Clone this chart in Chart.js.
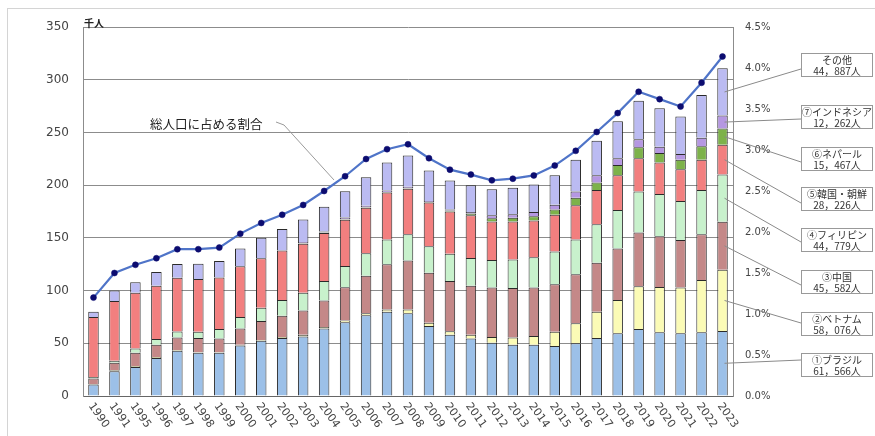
<!DOCTYPE html>
<html lang="ja">
<head>
<meta charset="utf-8">
<script src="https://cdn.jsdelivr.net/npm/chart.js@4.4.1/dist/chart.umd.min.js"></script>
<style>
  body { margin: 0; background: #fff; }
  #wrap { position: relative; width: 875px; height: 436px; overflow: hidden; }
  #frame { position: absolute; left: 7px; top: 8px; width: 900px; height: 500px; border-left: 1px solid #d4d4d4; border-top: 1px solid #d4d4d4; }
  canvas { position: absolute; left: 0; top: 0; }
  .note { position: absolute; font-family: "Noto Sans CJK JP", sans-serif; color: #222; white-space: nowrap; }
  .box { position: absolute; left: 801px; width: 72px; height: 24px; box-sizing: border-box; border: 1px solid #999; background: #fff;
         font-family: "Noto Sans CJK JP", sans-serif; font-size: 10px; line-height: 11px; text-align: center; color: #333; padding-top: 0px; }
</style>
</head>
<body>
<div id="wrap">
  <div id="frame"></div>
  <canvas id="grafico" width="875" height="436"></canvas>
  <div class="note" style="left:84px; top:15px; font-size:10px; font-weight:bold;">千人</div>
  <div class="note" style="left:150px; top:114px; font-size:12.5px;">総人口に占める割合</div>
  <div id="boxes"></div>
</div>
<script>
// 外国人住民数（千人）
const years = ["1990","1991","1995","1996","1997","1998","1999","2000","2001","2002","2003","2004","2005","2006","2007","2008","2009","2010","2011","2012","2013","2014","2015","2016","2017","2018","2019","2020","2021","2022","2023"];

const brazil      = [11, 23.5, 27.5, 36, 43, 41, 41, 48, 52.5, 55, 56.5, 64, 70, 76.5, 80, 78.5, 66.5, 58, 54.5, 50.5, 48.5, 48.5, 47.5, 50, 55, 59.5, 63.5, 60.5, 59.5, 60.5, 61.566];
const vietnam     = [0.5, 1, 1, 1, 0.6, 0.5, 0.5, 0.5, 0.7, 1, 1.5, 1.5, 1.7, 2, 2, 3.5, 3, 3.5, 3.5, 5.5, 7, 8.5, 13.5, 19, 25, 31.5, 40.5, 43, 43.5, 49.5, 58.076];
const china       = [5, 7, 12.5, 11.5, 12, 13.5, 13, 15.5, 18, 20, 23, 25, 31.5, 35.5, 43, 46.5, 47.5, 47.5, 46.5, 47, 47, 46, 45, 46.5, 46.5, 49, 51, 48, 45, 43.5, 45.582];
const philippines = [1.5, 2, 4, 5.5, 5.5, 6, 9, 11, 12.5, 15, 17, 18.5, 20, 21.5, 23.5, 25, 25, 26, 26.5, 26, 27, 28.5, 31, 33, 36.5, 36.5, 39, 40, 37, 42, 44.779];
const korea       = [57, 56.5, 53, 50.5, 51, 50, 49, 48, 47, 47, 46.5, 45.5, 44, 43, 44.5, 43, 41.5, 40, 40.5, 36.5, 36, 35, 35, 32.5, 32.5, 33, 31.5, 30, 30, 28.5, 28.226];
const nepal       = [0, 0, 0, 0, 0, 0, 0, 0, 0, 0, 0.5, 0.5, 0.5, 0.5, 0.5, 0.5, 0.5, 1, 1.5, 3, 3.5, 4, 5, 7, 7, 9.5, 10.5, 9, 9, 13, 15.467];
const indonesia   = [0, 0, 0, 0, 0, 0, 0, 0, 0, 0, 1, 1, 1.5, 1.5, 1.5, 1.5, 1, 1, 1.5, 3, 3.5, 4, 4.5, 6, 7, 6.5, 7.5, 6, 5.5, 8, 12.262];
const other       = [5, 10, 10, 13, 13, 14.5, 15.5, 17, 19.5, 20.5, 21.5, 23.5, 25, 27, 26.5, 29.5, 29, 27.5, 25.5, 24.5, 25, 26, 28, 30, 32.5, 35, 36.5, 36.5, 35.5, 40.5, 44.887];

// 総人口に占める割合（%）
const ratio = [1.20, 1.50, 1.60, 1.68, 1.79, 1.79, 1.81, 1.98, 2.11, 2.21, 2.33, 2.50, 2.68, 2.89, 3.01, 3.07, 2.90, 2.76, 2.70, 2.63, 2.65, 2.69, 2.81, 2.99, 3.22, 3.45, 3.71, 3.62, 3.53, 3.82, 4.14];

const seriesNames = ["①ブラジル", "②ベトナム", "③中国", "④フィリピン", "⑤韓国・朝鮮", "⑥ネパール", "⑦インドネシア", "その他"];
const seriesData = [brazil, vietnam, china, philippines, korea, nepal, indonesia, other];
const seriesColors = ["#9cc0e8", "#fbfbb6", "#c48888", "#c8f1cc", "#f27f7f", "#7db24a", "#b597e2", "#bbbbf2"];

// callout boxes (top px) and leader line end y, bottom series first
const boxTops = [353, 312, 270, 228, 187, 147, 105, 53];
const boxLineY = [360, 323, 285, 242, 203, 162, 119, 69];

function fmtPeople(v) {
    return Math.round(v * 1000).toLocaleString("en-US").replace(",", "，") + "人";
}

const boxesDiv = document.getElementById("boxes");
seriesNames.forEach((name, i) => {
    const d = document.createElement("div");
    d.className = "box";
    d.style.top = boxTops[i] + "px";
    const arr = seriesData[i];
    d.innerHTML = name + "<br>" + fmtPeople(arr[arr.length - 1]);
    boxesDiv.appendChild(d);
});

const xLabelPlugin = {
    id: "xLabels",
    afterDraw(chart) {
        const ctx = chart.ctx;
        const xs = chart.scales.x;
        ctx.save();
        ctx.font = "11px 'DejaVu Sans'";
        ctx.fillStyle = "#444";
        ctx.textAlign = "left";
        ctx.textBaseline = "middle";
        years.forEach((y, i) => {
            const x = xs.getPixelForTick(i);
            ctx.save();
            ctx.translate(x - 3, xs.top + 8);
            ctx.rotate(55 * Math.PI / 180);
            ctx.fillText(y, 0, 0);
            ctx.restore();
        });
        ctx.restore();
    }
};

const leaderPlugin = {
    id: "leaders",
    afterDraw(chart) {
        const ctx = chart.ctx;
        ctx.save();
        ctx.strokeStyle = "#8a8a8a";
        ctx.lineWidth = 1;
        seriesNames.forEach((n, i) => {
            const meta = chart.getDatasetMeta(i);
            const bar = meta.data[meta.data.length - 1];
            const midY = (bar.y + bar.base) / 2;
            ctx.beginPath();
            ctx.moveTo(bar.x + 2, midY);
            ctx.lineTo(801, boxLineY[i]);
            ctx.stroke();
        });
        // 総人口に占める割合 の引き出し線
        ctx.beginPath();
        ctx.strokeStyle = "#9a9a9a";
        ctx.moveTo(276, 122);
        ctx.lineTo(284, 125);
        ctx.lineTo(334, 180);
        ctx.stroke();
        ctx.restore();
    }
};

const barSets = seriesNames.map((name, i) => ({
    type: "bar",
    label: name,
    data: seriesData[i],
    backgroundColor: seriesColors[i],
    borderColor: "#2a2a2a",
    borderWidth: 1,
    barPercentage: 0.5,
    categoryPercentage: 1.0,
    yAxisID: "y",
    order: 1
}));

const lineSet = {
    type: "line",
    label: "総人口に占める割合",
    data: ratio,
    yAxisID: "y1",
    borderColor: "#4f74c8",
    borderWidth: 2.2,
    pointRadius: 3,
    pointBorderWidth: 0.5,
    pointBackgroundColor: "#0c0c70",
    pointBorderColor: "#0c0c70",
    tension: 0,
    order: 0
};

new Chart(document.getElementById("grafico").getContext("2d"), {
    type: "bar",
    data: { labels: years, datasets: [...barSets, lineSet] },
    options: {
        responsive: false,
        animation: false,
        layout: { padding: { top: 27, right: 82, left: 0, bottom: 0 } },
        plugins: { legend: { display: false }, tooltip: { enabled: false } },
        scales: {
            x: {
                stacked: true,
                grid: { display: false },
                border: { color: "#666" },
                ticks: { display: false },
                afterFit: s => { s.height = 40; }
            },
            y: {
                stacked: true,
                min: 0, max: 350,
                ticks: { stepSize: 50, padding: 14, color: "#444", font: { family: "DejaVu Sans", size: 12 } },
                grid: { color: "#8c8c8c", drawTicks: false },
                border: { color: "#8c8c8c" },
                afterFit: s => { s.width = 83; }
            },
            y1: {
                position: "right",
                min: 0, max: 4.5,
                ticks: { stepSize: 0.5, padding: 12, color: "#444", font: { family: "DejaVu Sans", size: 10 },
                         callback: v => v.toFixed(1) + "%" },
                grid: { display: false, drawTicks: false },
                border: { color: "#8c8c8c" },
                afterFit: s => { s.width = 60; }
            }
        }
    },
    plugins: [xLabelPlugin, leaderPlugin]
});
</script>
</body>
</html>
